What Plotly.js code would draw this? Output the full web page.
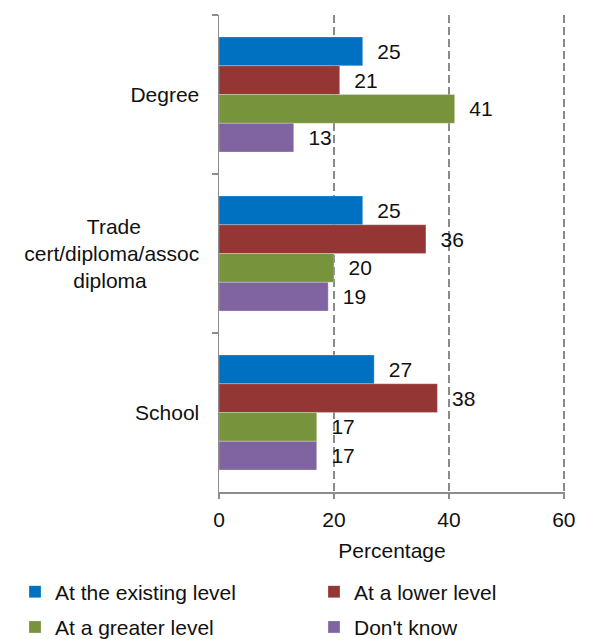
<!DOCTYPE html>
<html>
<head>
<meta charset="utf-8">
<script src="https://cdn.plot.ly/plotly-3.0.1.min.js"></script>
<style>html,body{margin:0;padding:0;background:#fff;}</style>
</head>
<body>
<div id="chart" style="width:590px;height:639px;"></div>
<script>
var NB = '\u00a0';
function pad(n){ return NB.repeat(n); }
var categories = ['Degree', 'Trade' + pad(10) + '<br>cert/diploma/assoc<br>diploma' + pad(9), 'School'];
var seriesNames = ['At the existing level', 'At a lower level', 'At a greater level', "Don't know"];
var existingLevel = [25, 25, 27];
var lowerLevel = [21, 36, 38];
var greaterLevel = [41, 20, 17];
var dontKnow = [13, 19, 17];
var colors = ['#0070C0', '#943634', '#77933C', '#8064A2'];
var xTicks = [0, 20, 40, 60];

var values = [existingLevel, lowerLevel, greaterLevel, dontKnow];
var legendIds = ['legend', 'legend', 'legend2', 'legend2'];
var legendWidths = [254, 150, 254, 150];
var font = 'Liberation Sans, Arial, Helvetica, sans-serif';
var xRange = [0, 60.2];

var data = values.map(function(v, i){
  return {
    type: 'bar', orientation: 'h',
    name: seriesNames[i],
    y: categories, x: v,
    marker: {color: colors[i], line: {color: 'rgba(255,255,255,0.5)', width: 0.5}},
    texttemplate: pad(2) + '%{x}',
    textposition: 'outside',
    constraintext: 'none',
    cliponaxis: false,
    textfont: {family: font, size: 21, color: '#111'},
    legend: legendIds[i],
    legendwidth: legendWidths[i],
    hoverinfo: 'x+name'
  };
});

var layout = {
  width: 590, height: 639,
  margin: {l: 219, r: 25, t: 15, b: 147, autoexpand: false},
  paper_bgcolor: '#fff', plot_bgcolor: '#fff',
  font: {family: font, size: 21, color: '#111'},
  barmode: 'group', bargap: 0.277, bargroupgap: 0,
  showlegend: true,
  xaxis: {
    range: xRange, tickvals: xTicks, ticktext: xTicks.map(String),
    showgrid: true, gridcolor: '#8a8a8a', gridwidth: 1.5, griddash: '8px,4px',
    zeroline: false,
    showline: true, linecolor: '#8c8c8c', linewidth: 1.5,
    ticks: 'outside', ticklen: 5, tickcolor: '#8c8c8c', tickwidth: 1.5,
    ticklabelstandoff: 3,
    tickfont: {size: 21, color: '#111'},
    title: {text: 'Percentage', font: {size: 21, color: '#111'}, standoff: 13},
    automargin: false,
    fixedrange: true
  },
  xaxis2: {
    overlaying: 'x', anchor: 'y', side: 'bottom',
    range: xRange, tickvals: xTicks,
    showticklabels: false, showgrid: false, zeroline: false, showline: false,
    ticks: 'inside', ticklen: 5, tickcolor: '#8c8c8c', tickwidth: 1.5
  },
  yaxis: {
    type: 'category', range: [2.5, -0.5],
    showgrid: false, zeroline: false,
    showline: true, linecolor: '#8c8c8c', linewidth: 1.5,
    ticks: 'outside', tickson: 'boundaries', ticklen: 6, tickcolor: '#8c8c8c', tickwidth: 1.5,
    ticklabelstandoff: 14,
    tickfont: {size: 21, color: '#111'},
    automargin: false,
    fixedrange: true
  },
  legend: {
    orientation: 'h', x: -0.5896, xanchor: 'left', y: -0.2096, yanchor: 'middle',
    font: {size: 21, color: '#111'}, bgcolor: 'rgba(0,0,0,0)', borderwidth: 0
  },
  legend2: {
    orientation: 'h', x: -0.5896, xanchor: 'left', y: -0.2835, yanchor: 'middle',
    font: {size: 21, color: '#111'}, bgcolor: 'rgba(0,0,0,0)', borderwidth: 0
  }
};

Plotly.newPlot('chart', data, layout, {displayModeBar: false, staticPlot: true});
</script>
</body>
</html>
